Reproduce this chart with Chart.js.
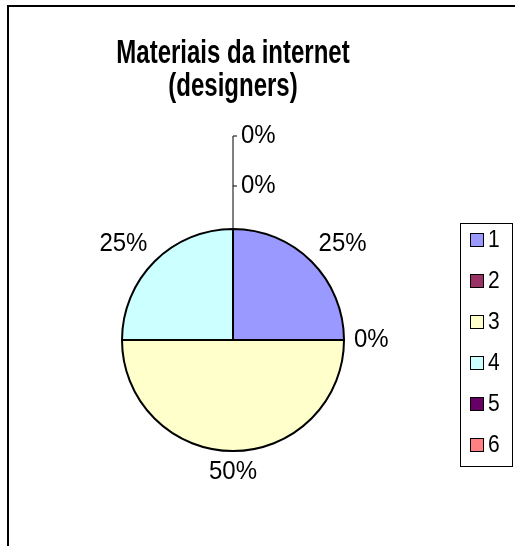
<!DOCTYPE html>
<html>
<head>
<meta charset="utf-8">
<script src="https://cdn.jsdelivr.net/npm/chart.js@4"></script>
<style>
  html, body { margin: 0; padding: 0; background: #fff; overflow: hidden; }
  canvas { display: block; }
</style>
</head>
<body>
<canvas id="pieChart" width="515" height="546"></canvas>
<script>
// chart data
const categories = ['1', '2', '3', '4', '5', '6'];
const percentValues = [25, 0, 50, 25, 0, 0];
const titleLines = ['Materiais da internet', '(designers)'];

// excel-ish palette
const sliceColors = ['#9999FF', '#993366', '#FFFFCC', '#CCFFFF', '#660066', '#FF8080'];
const FONT = '"Liberation Sans", Arial, sans-serif';

// draws text stretched vertically (the old excel export looks taller)
function tallText(c, txt, x, y, sy) {
  c.save();
  c.translate(x, y);
  c.scale(1, sy);
  c.fillText(txt, 0, 0);
  c.restore();
}

// frame, title, slice labels and the boxed legend
const excelBits = {
  id: 'excelBits',
  beforeDraw(chart) {
    const c = chart.ctx;
    c.save();
    c.strokeStyle = '#000';
    c.lineWidth = 2;
    c.strokeRect(8, 6, 700, 700);
    c.restore();
  },
  afterDatasetsDraw(chart) {
    const c = chart.ctx;
    const meta = chart.getDatasetMeta(0);
    const data = chart.data.datasets[0].data;
    c.save();

    // title
    c.fillStyle = '#000';
    c.textAlign = 'center';
    c.textBaseline = 'alphabetic';
    c.font = 'bold 24px ' + FONT;
    const cx0 = meta.data[0].x;
    titleLines.forEach((t, i) => tallText(c, t, cx0, 63 + i * 33, 1.4));

    // group labels sitting at the same angle
    const groups = {};
    meta.data.forEach((arc, i) => {
      const mid = (arc.startAngle + arc.endAngle) / 2;
      const key = mid.toFixed(3);
      (groups[key] = groups[key] || []).push({ arc, i, mid });
    });

    c.font = '24px ' + FONT;
    c.textBaseline = 'middle';
    c.strokeStyle = '#000';
    c.lineWidth = 1;
    Object.values(groups).forEach(g => {
      if (g.length === 1) {
        const { arc, i, mid } = g[0];
        const txt = data[i] + '%';
        const w = c.measureText(txt).width, h = 22;
        const cos = Math.cos(mid), sin = Math.sin(mid);
        const clamp = v => Math.max(-1, Math.min(1, v));
        const d = arc.outerRadius + 10;
        const x = arc.x + cos * d + clamp(cos * 3) * w / 2;
        const y = arc.y + sin * d + clamp(sin * 3) * h / 2;
        c.textAlign = 'center';
        tallText(c, txt, x, y, 1.08);
      } else {
        // stacked with leader line
        const { arc, mid } = g[0];
        const cos = Math.cos(mid), sin = Math.sin(mid);
        const px = -sin, py = cos;
        const r = arc.outerRadius;
        const far = r + 43 + 50 * (g.length - 1);
        c.beginPath();
        c.moveTo(arc.x + cos * r, arc.y + sin * r);
        c.lineTo(arc.x + cos * far, arc.y + sin * far);
        c.stroke();
        g.forEach((item, k) => {
          const d = r + 43 + 50 * k;
          const bx = arc.x + cos * d, by = arc.y + sin * d;
          c.beginPath();
          c.moveTo(bx, by);
          c.lineTo(bx + px * 4, by + py * 4);
          c.stroke();
          c.textAlign = px >= 0 ? 'left' : 'right';
          tallText(c, data[item.i] + '%', bx + px * 8, by + py * 8, 1.08);
        });
      }
    });

    // legend box
    c.strokeStyle = '#000';
    c.lineWidth = 1;
    c.strokeRect(460.5, 223.5, 52, 243);
    c.font = '21px ' + FONT;
    c.textAlign = 'left';
    categories.forEach((cat, i) => {
      const y = 240 + i * 41;
      c.fillStyle = sliceColors[i];
      c.fillRect(470.5, y - 6.5, 13, 13);
      c.strokeRect(470.5, y - 6.5, 13, 13);
      c.fillStyle = '#000';
      tallText(c, cat, 488, y + 1, 1.1);
    });
    c.restore();
  }
};

const ctx = document.getElementById('pieChart').getContext('2d');
new Chart(ctx, {
  type: 'pie',
  data: {
    labels: categories,
    datasets: [{
      data: percentValues,
      backgroundColor: sliceColors,
      borderColor: '#000',
      borderWidth: 2
    }]
  },
  options: {
    responsive: false,
    animation: false,
    layout: { padding: { left: 121, right: 170, top: 228, bottom: 94 } },
    plugins: {
      legend: { display: false },
      title: { display: false },
      tooltip: { enabled: false }
    }
  },
  plugins: [excelBits]
});
</script>
</body>
</html>
